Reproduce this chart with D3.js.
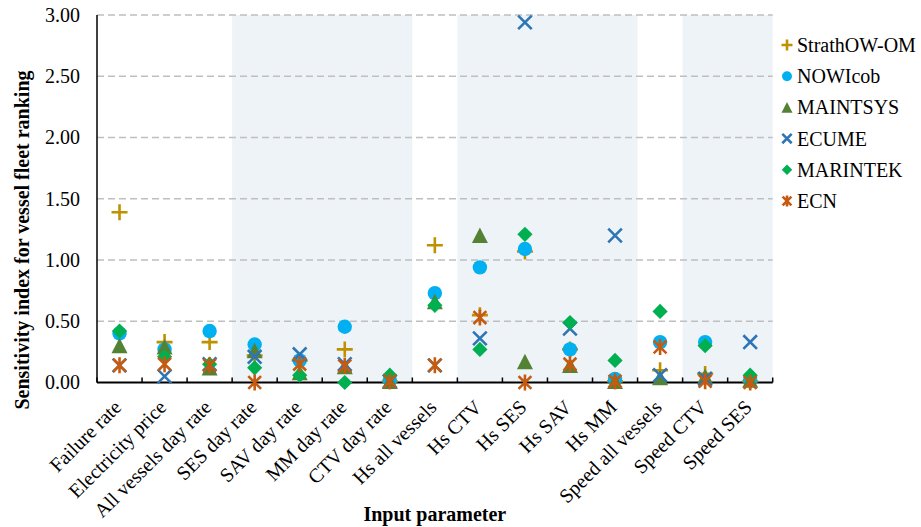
<!DOCTYPE html>
<html><head><meta charset="utf-8">
<script src="https://cdn.jsdelivr.net/npm/d3@7"></script>
<style>body{margin:0;background:#fff}svg{display:block}</style>
</head><body><svg id="c" width="921" height="527"></svg>
<script>
const categories = ["Failure rate","Electricity price","All vessels day rate","SES day rate","SAV day rate","MM day rate","CTV day rate","Hs all vessels","Hs CTV","Hs SES","Hs SAV","Hs MM","Speed all vessels","Speed CTV","Speed SES"];
const seriesNames = ["StrathOW-OM","NOWIcob","MAINTSYS","ECUME","MARINTEK","ECN"];
const strathow = [1.39,0.33,0.33,0.22,0.18,0.27,0.01,1.12,0.55,1.07,0.27,0.01,0.10,0.07,0.01];
const nowicob  = [0.40,0.27,0.42,0.31,0.18,0.455,0.02,0.73,0.94,1.09,0.27,0.03,0.33,0.33,0.02];
const maintsys = [0.30,0.29,0.12,0.26,0.08,0.13,0.01,0.66,1.20,0.17,0.14,0.01,0.04,0.05,0.02];
const ecume    = [0.14,0.05,0.15,0.21,0.23,0.15,0.01,0.14,0.36,2.94,0.44,1.20,0.06,0.03,0.33];
const marintek = [0.42,0.21,0.15,0.12,0.06,0.00,0.06,0.63,0.27,1.21,0.49,0.18,0.58,0.30,0.06];
const ecn      = [0.14,0.15,0.14,0.00,0.15,0.135,0.01,0.14,0.53,0.00,0.15,0.01,0.29,0.01,0.00];
const yTicks = [0,0.5,1,1.5,2,2.5,3];
const shadedGroups = [["SES day rate","CTV day rate"],["Hs CTV","Hs MM"],["Speed CTV","Speed SES"]];
const seriesValues = [strathow,nowicob,maintsys,ecume,marintek,ecn];
const colors = ["#BF9000","#00B0F0","#548235","#2E75B6","#00B050","#C55A11"];
const shapes = ["plus","circle","triangle","x","diamond","star"];

const FONT = "'Liberation Serif','Times New Roman',serif";
const svg = d3.select("#c");
const L=97, R=772.7, T=15, B=382.5;
const x = d3.scaleBand().domain(categories).range([L,R]).padding(0);
const y = d3.scaleLinear().domain([0,3]).range([B,T]);
const bw = x.bandwidth();

// shaded bands
svg.append("g").selectAll("rect").data(shadedGroups).join("rect")
  .attr("x", d=>x(d[0])).attr("y", T)
  .attr("width", d=>x(d[1])+bw-x(d[0])).attr("height", B-T)
  .attr("fill","#EEF3F8");

// gridlines
svg.append("g").selectAll("line").data(yTicks.filter(v=>v>0)).join("line")
  .attr("x1",L).attr("x2",R).attr("y1",d=>y(d)).attr("y2",d=>y(d))
  .attr("stroke","#BFBFBF").attr("stroke-width",1.3).attr("stroke-dasharray","7,4");

// y axis labels
const ya = svg.append("g").attr("transform",`translate(${L},0)`)
  .call(d3.axisLeft(y).tickValues(yTicks).tickSize(0).tickPadding(17).tickFormat(d3.format(".2f")));
ya.select(".domain").remove();
ya.selectAll("text").attr("font-family",FONT).attr("font-size",20).attr("fill","#000");

// axis lines
svg.append("line").attr("x1",L).attr("x2",L).attr("y1",T).attr("y2",B).attr("stroke","#000").attr("stroke-width",1.5);

// x axis labels
const xa = svg.append("g").attr("transform",`translate(0,${B})`)
  .call(d3.axisBottom(x).tickSize(0));
xa.select(".domain").remove();
xa.selectAll("text").attr("font-family",FONT).attr("font-size",20).attr("fill","#000")
  .attr("x",0).attr("y",0).attr("dy",0).attr("text-anchor","end")
  .attr("transform","translate(3,26) rotate(-45)");

svg.append("line").attr("x1",L).attr("x2",R).attr("y1",B).attr("y2",B).attr("stroke","#000").attr("stroke-width",2);
svg.append("g").selectAll("line").data(d3.range(categories.length+1)).join("line")
  .attr("x1",i=>L+i*bw).attr("x2",i=>L+i*bw).attr("y1",B).attr("y2",B-5)
  .attr("stroke","#000").attr("stroke-width",1.5);

function drawMarker(g, shape, color, s){
  if(shape==="plus"){
    g.append("path").attr("d",`M${-s},0H${s}M0,${-s}V${s}`).attr("stroke",color).attr("stroke-width",2.6).attr("fill","none");
  } else if(shape==="x"){
    const a=s*0.85;
    g.append("path").attr("d",`M${-a},${-a}L${a},${a}M${-a},${a}L${a},${-a}`).attr("stroke",color).attr("stroke-width",2.6).attr("fill","none");
  } else if(shape==="star"){
    const a=s*0.8;
    g.append("path").attr("d",`M${-a},${-a}L${a},${a}M${-a},${a}L${a},${-a}M0,${-s}V${s}`).attr("stroke",color).attr("stroke-width",2.6).attr("fill","none");
  } else if(shape==="circle"){
    g.append("circle").attr("r",s*0.9).attr("fill",color);
  } else if(shape==="triangle"){
    g.append("path").attr("d",`M0,${-s}L${s},${s*0.95}L${-s},${s*0.95}Z`).attr("fill",color);
  } else if(shape==="diamond"){
    g.append("path").attr("d",`M0,${-s*0.95}L${s*0.95},0L0,${s*0.95}L${-s*0.95},0Z`).attr("fill",color);
  }
}

// markers
seriesValues.forEach((vals,si)=>{
  const g = svg.append("g");
  vals.forEach((v,i)=>{
    if(v==null) return;
    const mg = g.append("g").attr("transform",`translate(${x(categories[i])+bw/2},${y(v)})`);
    drawMarker(mg, shapes[si], colors[si], 8);
  });
});

// legend
const lg = svg.append("g");
seriesNames.forEach((n,i)=>{
  const yy = 45 + i*31.2;
  const mg = lg.append("g").attr("transform",`translate(787,${yy})`);
  drawMarker(mg, shapes[i], colors[i], 5.5);
  lg.append("text").attr("x",797).attr("y",yy).attr("dy","0.35em")
    .attr("font-family",FONT).attr("font-size",20).attr("fill","#000").text(n);
});

// axis titles
svg.append("text").attr("x",(L+R)/2).attr("y",521).attr("text-anchor","middle")
  .attr("font-family",FONT).attr("font-size",20).attr("font-weight","bold").text("Input parameter");
svg.append("text").attr("transform","translate(29,240) rotate(-90)").attr("text-anchor","middle")
  .attr("font-family",FONT).attr("font-size",20).attr("font-weight","bold").text("Sensitivity index for vessel fleet ranking");
</script></body></html>
